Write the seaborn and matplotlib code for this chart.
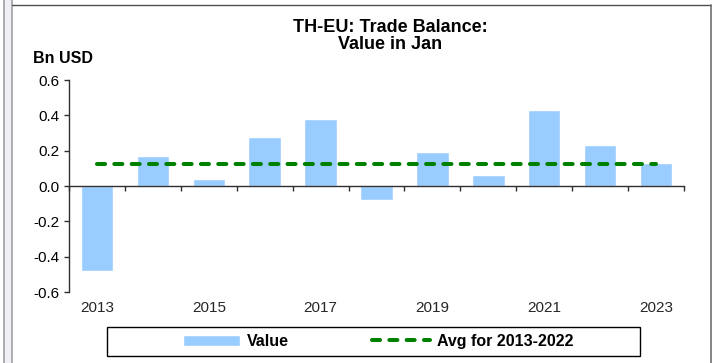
import numpy as np
import pandas as pd
import matplotlib
matplotlib.use("Agg")
import matplotlib.pyplot as plt
from matplotlib.lines import Line2D
from matplotlib.patches import Rectangle
import seaborn as sns

# Thailand-EU trade balance, January value of each year (Bn USD)
years = ["2013", "2014", "2015", "2016", "2017", "2018",
         "2019", "2020", "2021", "2022", "2023"]
values = [-0.48, 0.17, 0.04, 0.28, 0.38, -0.08, 0.19, 0.06, 0.43, 0.23, 0.13]
avg_years = years[:10]  # 2013-2022
y_ticks = [-0.6, -0.4, -0.2, 0.0, 0.2, 0.4, 0.6]
shown_years = ["2013", "2015", "2017", "2019", "2021", "2023"]

df = pd.DataFrame({"Year": years, "Value": values})
avg_value = float(np.mean([v for y, v in zip(years, values) if y in avg_years]))

sns.set_theme(style="white")
plt.rcParams["font.family"] = ["Liberation Sans", "DejaVu Sans"]
plt.rcParams["text.color"] = "black"

W, H = 712, 363
fig = plt.figure(figsize=(W / 100, H / 100), dpi=100)
fig.patch.set_facecolor("white")

# outer frame of the panel
fig.add_artist(Rectangle((3.5 / W, 0), 7.5 / W, 1, transform=fig.transFigure,
                         facecolor="#EEF0F6", edgecolor="none", zorder=0))
for x in (3.5, 11.5):
    fig.add_artist(Line2D([x / W, x / W], [0, 1], transform=fig.transFigure,
                          color="#A0A0A0", lw=1.2))
fig.add_artist(Line2D([11.5 / W, 1], [1 - 4.5 / H, 1 - 4.5 / H],
                      transform=fig.transFigure, color="#505050", lw=1.0))
fig.add_artist(Line2D([710.5 / W, 710.5 / W], [0, 1 - 4.5 / H],
                      transform=fig.transFigure, color="#707070", lw=1.2))

ax = fig.add_axes([69 / W, 1 - 292 / H, (684 - 69) / W, (292 - 80) / H])
ax.set_facecolor("none")

sns.barplot(data=df, x="Year", y="Value", color="#99CCFF", saturation=1,
            width=0.58, ax=ax, label="Value", legend=False)
ax.plot(np.arange(len(years)), [avg_value] * len(years), color="#008000",
        lw=2.9, linestyle=(0, (2.0, 2.3)), dash_capstyle="round",
        label="Avg for 2013-2022", zorder=3)
if ax.get_legend() is not None:
    ax.get_legend().remove()

ax.set_xlim(-0.5, len(years) - 0.5)
ax.set_ylim(-0.6, 0.6)
ax.set_yticks(y_ticks)
ax.set_yticklabels([f"{t:.1f}" for t in y_ticks], fontsize=11, color="black")

# category labels every second year, tick marks between categories
pos = [years.index(y) for y in shown_years]
ax.set_xticks(pos)
ax.set_xticklabels(shown_years, fontsize=12, color="black")
ax.set_xticks(np.arange(len(years) + 1) - 0.5, minor=True)
ax.tick_params(axis="x", which="major", length=0, pad=83)
ax.tick_params(axis="x", which="minor", length=3.5, width=1, color="#303030",
               direction="out", bottom=True)
ax.tick_params(axis="y", which="major", length=3.5, width=1, color="#303030",
               direction="out", left=True, pad=3)
ax.set_xlabel("")
ax.set_ylabel("")

for side in ("top", "right"):
    ax.spines[side].set_visible(False)
ax.spines["bottom"].set_position(("data", 0))
for side in ("left", "bottom"):
    ax.spines[side].set_color("#303030")
    ax.spines[side].set_linewidth(1.0)

fig.text(390 / W, 1 - 36 / H, "TH-EU: Trade Balance:\nValue in Jan",
         ha="center", va="center", fontsize=13, fontweight="bold",
         linespacing=1.0, color="black")
fig.text(33 / W, 1 - 58.5 / H, "Bn USD", ha="left", va="center",
         fontsize=11.5, fontweight="bold", color="black")

# legend: box drawn separately so it can be wider than its entries
fig.add_artist(Rectangle((106.5 / W, 1 - 356 / H), (640 - 106.5) / W, 29 / H,
                         transform=fig.transFigure, facecolor="white",
                         edgecolor="black", lw=1.0, zorder=1))
handles, labels = ax.get_legend_handles_labels()
order = [labels.index("Value"), labels.index("Avg for 2013-2022")]
leg = fig.legend([handles[i] for i in order], [labels[i] for i in order],
                 loc="center", ncol=2,
                 bbox_to_anchor=(378 / W, 1 - 341.5 / H),
                 frameon=False, prop={"weight": "bold", "size": 11.5},
                 handlelength=3.6, handletextpad=0.45, columnspacing=5.2,
                 borderpad=0.3)
leg.set_zorder(2)

fig.savefig("out.png", dpi=100, facecolor="white")
